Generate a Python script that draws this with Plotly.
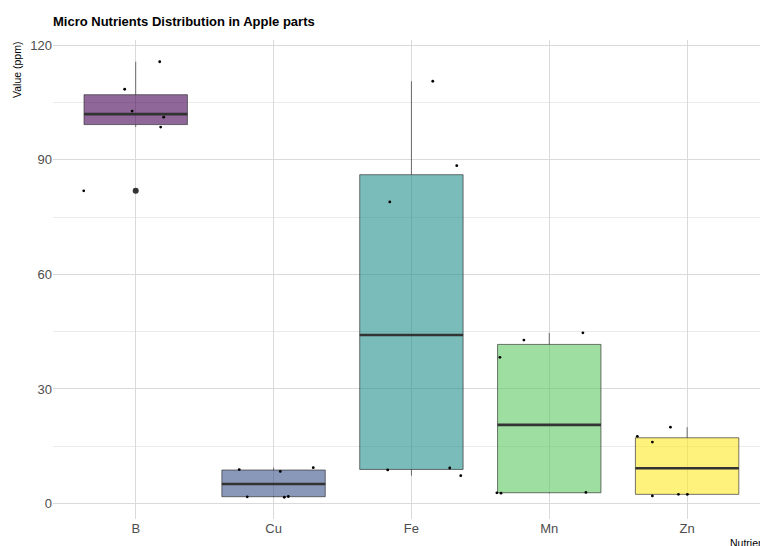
import numpy as np
import plotly.graph_objects as go

# Micro nutrient measurements (ppm) per nutrient
nutrients = ["B", "Cu", "Fe", "Mn", "Zn"]
b_values = [81.9, 108.5, 115.7, 102.8, 101.2, 98.6]
cu_values = [8.9, 8.4, 9.4, 1.76, 1.65, 1.84]
fe_values = [110.6, 88.5, 79.0, 8.8, 9.3, 7.3]
mn_values = [42.8, 44.7, 38.3, 2.8, 2.7, 2.9]
zn_values = [20.0, 17.6, 16.1, 2.0, 2.4, 2.4]

# horizontal jitter applied to the raw points (category units)
b_jitter = [-0.377, -0.080, 0.174, -0.026, 0.203, 0.181]
cu_jitter = [-0.249, 0.049, 0.288, -0.191, 0.078, 0.107]
fe_jitter = [0.155, 0.329, -0.157, -0.172, 0.278, 0.358]
mn_jitter = [-0.184, 0.244, -0.358, -0.380, -0.350, 0.266]
zn_jitter = [-0.121, -0.361, -0.252, -0.252, -0.063, 0.002]

values = [b_values, cu_values, fe_values, mn_values, zn_values]
jitters = [b_jitter, cu_jitter, fe_jitter, mn_jitter, zn_jitter]
fills = ["rgba(68,1,84,0.6)", "rgba(59,82,139,0.6)", "rgba(33,144,140,0.6)",
         "rgba(93,200,99,0.6)", "rgba(253,231,37,0.6)"]
box_width = 0.75

fig = go.Figure()

all_vals = np.concatenate([np.array(v) for v in values])
span = all_vals.max() - all_vals.min()
y_range = [all_vals.min() - 0.05 * span, all_vals.max() + 0.05 * span]

for i, (name, vals, jit, fill) in enumerate(zip(nutrients, values, jitters, fills)):
    v = np.array(vals)
    q1, med, q3 = np.percentile(v, [25, 50, 75])
    iqr = q3 - q1
    lo_lim, hi_lim = q1 - 1.5 * iqr, q3 + 1.5 * iqr
    inside = v[(v >= lo_lim) & (v <= hi_lim)]
    outliers = v[(v < lo_lim) | (v > hi_lim)]

    fig.add_trace(go.Box(
        x=[i], q1=[q1], median=[med], q3=[q3],
        lowerfence=[inside.min()], upperfence=[inside.max()],
        width=box_width, fillcolor=fill,
        line=dict(color="rgba(45,45,45,0.65)", width=1),
        whiskerwidth=0, boxpoints=False, showlegend=False, hoverinfo="skip",
    ))
    # thicker median bar
    fig.add_trace(go.Scatter(
        x=[i - box_width / 2, i + box_width / 2], y=[med, med], mode="lines",
        line=dict(color="#333333", width=2.6), showlegend=False, hoverinfo="skip",
    ))
    if len(outliers):
        fig.add_trace(go.Scatter(
            x=[i] * len(outliers), y=outliers, mode="markers",
            marker=dict(color="#333333", size=6), showlegend=False,
        ))
    fig.add_trace(go.Scatter(
        x=[i + j for j in jit], y=vals, mode="markers",
        marker=dict(color="black", size=2.8), showlegend=False,
    ))

fig.update_layout(
    width=760, height=546,
    margin=dict(l=53, r=0, t=40, b=27),
    paper_bgcolor="white", plot_bgcolor="white",
    font=dict(family="Liberation Sans, Arial, sans-serif"),
    title=dict(text="<b>Micro Nutrients Distribution in Apple parts</b>",
               x=53 / 760, xanchor="left", y=1 - 21 / 546, yanchor="middle",
               font=dict(size=13, color="black")),
    xaxis=dict(
        range=[-0.6, -0.6 + 707 / 137.85],
        tickmode="array", tickvals=list(range(len(nutrients))), ticktext=nutrients,
        showgrid=True, gridcolor="#DADADA", gridwidth=1,
        zeroline=False, showline=False, ticks="",
        tickfont=dict(size=13, color="#4D4D4D"),
    ),
    yaxis=dict(
        range=y_range, tickmode="array", tickvals=[0, 30, 60, 90, 120],
        showgrid=True, gridcolor="#DADADA", gridwidth=1,
        minor=dict(tickvals=[15, 45, 75, 105], showgrid=True,
                   gridcolor="#EBEBEB", gridwidth=0.8),
        zeroline=False, showline=False, ticks="",
        tickfont=dict(size=13, color="#4D4D4D"),
    ),
    annotations=[
        dict(text="Value (ppm)", textangle=-90, xref="paper", yref="paper",
             x=-36 / 707, y=1, xanchor="center", yanchor="top",
             showarrow=False, font=dict(size=10.5, color="black")),
        dict(text="Nutrient", xref="paper", yref="paper",
             x=1 + 9 / 707, y=-24 / 479, xanchor="right", yanchor="middle",
             showarrow=False, font=dict(size=10.5, color="black")),
    ],
)

fig.write_html("out.html")
